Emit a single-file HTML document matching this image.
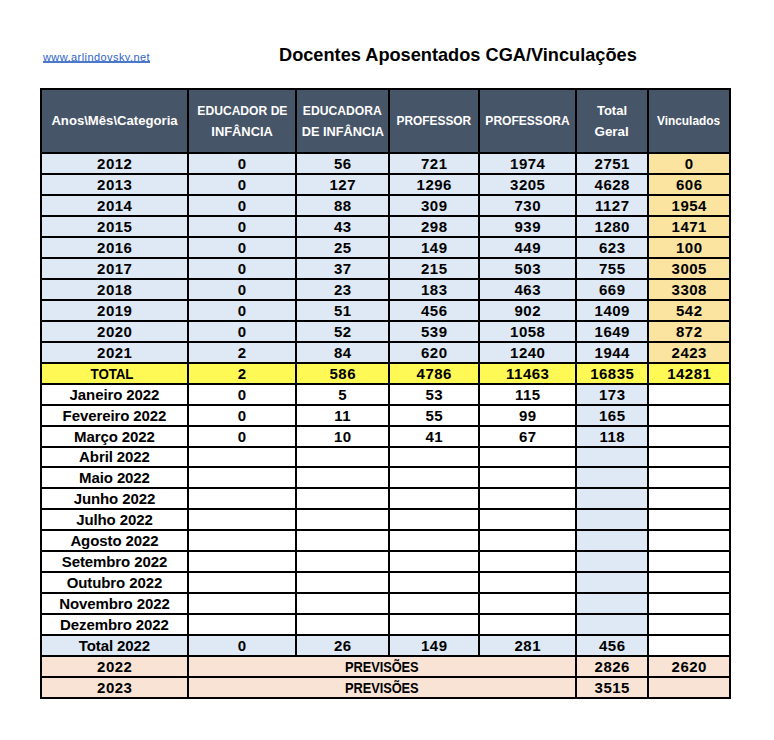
<!DOCTYPE html>
<html><head><meta charset="utf-8"><style>
html,body{margin:0;padding:0;background:#fff;width:774px;height:740px;overflow:hidden;position:relative}
.b{position:absolute}
.t{position:absolute;text-align:center;font-family:"Liberation Sans",sans-serif;font-weight:bold;white-space:nowrap;color:#000}
.d{font-size:15px;letter-spacing:-0.1px;text-indent:-0.1px}
.num{letter-spacing:0.5px;text-indent:0.5px}
.h{color:#fff;font-size:13px}
.h2{line-height:21px;padding-top:10px;box-sizing:border-box}
.link{position:absolute;left:43px;top:51px;font-family:"Liberation Sans",sans-serif;font-size:11px;letter-spacing:0.43px;color:#2E62C8;white-space:nowrap}
.ul{position:absolute;left:43px;top:61px;width:107px;height:2px;background:#4A78CC}
.title{position:absolute;left:279px;top:45px;font-family:"Liberation Sans",sans-serif;font-size:18.2px;font-weight:bold;color:#000;white-space:nowrap}
</style></head><body>
<div class="link">www.arlindovsky.net</div><div class="ul"></div>
<div class="title">Docentes Aposentados CGA/Vinculações</div>
<div class="b" style="left:40px;top:88px;width:691px;height:64px;background:#475568"></div>
<div class="b" style="left:40px;top:152px;width:147px;height:21px;background:#DEE9F5"></div>
<div class="b" style="left:187px;top:152px;width:108px;height:21px;background:#DEE9F5"></div>
<div class="b" style="left:295px;top:152px;width:93px;height:21px;background:#DEE9F5"></div>
<div class="b" style="left:388px;top:152px;width:90px;height:21px;background:#DEE9F5"></div>
<div class="b" style="left:478px;top:152px;width:97px;height:21px;background:#DEE9F5"></div>
<div class="b" style="left:575px;top:152px;width:72px;height:21px;background:#DEE9F5"></div>
<div class="b" style="left:647px;top:152px;width:82px;height:21px;background:#FAE4A0"></div>
<div class="b" style="left:40px;top:173px;width:147px;height:21px;background:#DEE9F5"></div>
<div class="b" style="left:187px;top:173px;width:108px;height:21px;background:#DEE9F5"></div>
<div class="b" style="left:295px;top:173px;width:93px;height:21px;background:#DEE9F5"></div>
<div class="b" style="left:388px;top:173px;width:90px;height:21px;background:#DEE9F5"></div>
<div class="b" style="left:478px;top:173px;width:97px;height:21px;background:#DEE9F5"></div>
<div class="b" style="left:575px;top:173px;width:72px;height:21px;background:#DEE9F5"></div>
<div class="b" style="left:647px;top:173px;width:82px;height:21px;background:#FAE4A0"></div>
<div class="b" style="left:40px;top:194px;width:147px;height:21px;background:#DEE9F5"></div>
<div class="b" style="left:187px;top:194px;width:108px;height:21px;background:#DEE9F5"></div>
<div class="b" style="left:295px;top:194px;width:93px;height:21px;background:#DEE9F5"></div>
<div class="b" style="left:388px;top:194px;width:90px;height:21px;background:#DEE9F5"></div>
<div class="b" style="left:478px;top:194px;width:97px;height:21px;background:#DEE9F5"></div>
<div class="b" style="left:575px;top:194px;width:72px;height:21px;background:#DEE9F5"></div>
<div class="b" style="left:647px;top:194px;width:82px;height:21px;background:#FAE4A0"></div>
<div class="b" style="left:40px;top:215px;width:147px;height:21px;background:#DEE9F5"></div>
<div class="b" style="left:187px;top:215px;width:108px;height:21px;background:#DEE9F5"></div>
<div class="b" style="left:295px;top:215px;width:93px;height:21px;background:#DEE9F5"></div>
<div class="b" style="left:388px;top:215px;width:90px;height:21px;background:#DEE9F5"></div>
<div class="b" style="left:478px;top:215px;width:97px;height:21px;background:#DEE9F5"></div>
<div class="b" style="left:575px;top:215px;width:72px;height:21px;background:#DEE9F5"></div>
<div class="b" style="left:647px;top:215px;width:82px;height:21px;background:#FAE4A0"></div>
<div class="b" style="left:40px;top:236px;width:147px;height:21px;background:#DEE9F5"></div>
<div class="b" style="left:187px;top:236px;width:108px;height:21px;background:#DEE9F5"></div>
<div class="b" style="left:295px;top:236px;width:93px;height:21px;background:#DEE9F5"></div>
<div class="b" style="left:388px;top:236px;width:90px;height:21px;background:#DEE9F5"></div>
<div class="b" style="left:478px;top:236px;width:97px;height:21px;background:#DEE9F5"></div>
<div class="b" style="left:575px;top:236px;width:72px;height:21px;background:#DEE9F5"></div>
<div class="b" style="left:647px;top:236px;width:82px;height:21px;background:#FAE4A0"></div>
<div class="b" style="left:40px;top:257px;width:147px;height:21px;background:#DEE9F5"></div>
<div class="b" style="left:187px;top:257px;width:108px;height:21px;background:#DEE9F5"></div>
<div class="b" style="left:295px;top:257px;width:93px;height:21px;background:#DEE9F5"></div>
<div class="b" style="left:388px;top:257px;width:90px;height:21px;background:#DEE9F5"></div>
<div class="b" style="left:478px;top:257px;width:97px;height:21px;background:#DEE9F5"></div>
<div class="b" style="left:575px;top:257px;width:72px;height:21px;background:#DEE9F5"></div>
<div class="b" style="left:647px;top:257px;width:82px;height:21px;background:#FAE4A0"></div>
<div class="b" style="left:40px;top:278px;width:147px;height:21px;background:#DEE9F5"></div>
<div class="b" style="left:187px;top:278px;width:108px;height:21px;background:#DEE9F5"></div>
<div class="b" style="left:295px;top:278px;width:93px;height:21px;background:#DEE9F5"></div>
<div class="b" style="left:388px;top:278px;width:90px;height:21px;background:#DEE9F5"></div>
<div class="b" style="left:478px;top:278px;width:97px;height:21px;background:#DEE9F5"></div>
<div class="b" style="left:575px;top:278px;width:72px;height:21px;background:#DEE9F5"></div>
<div class="b" style="left:647px;top:278px;width:82px;height:21px;background:#FAE4A0"></div>
<div class="b" style="left:40px;top:299px;width:147px;height:21px;background:#DEE9F5"></div>
<div class="b" style="left:187px;top:299px;width:108px;height:21px;background:#DEE9F5"></div>
<div class="b" style="left:295px;top:299px;width:93px;height:21px;background:#DEE9F5"></div>
<div class="b" style="left:388px;top:299px;width:90px;height:21px;background:#DEE9F5"></div>
<div class="b" style="left:478px;top:299px;width:97px;height:21px;background:#DEE9F5"></div>
<div class="b" style="left:575px;top:299px;width:72px;height:21px;background:#DEE9F5"></div>
<div class="b" style="left:647px;top:299px;width:82px;height:21px;background:#FAE4A0"></div>
<div class="b" style="left:40px;top:320px;width:147px;height:21px;background:#DEE9F5"></div>
<div class="b" style="left:187px;top:320px;width:108px;height:21px;background:#DEE9F5"></div>
<div class="b" style="left:295px;top:320px;width:93px;height:21px;background:#DEE9F5"></div>
<div class="b" style="left:388px;top:320px;width:90px;height:21px;background:#DEE9F5"></div>
<div class="b" style="left:478px;top:320px;width:97px;height:21px;background:#DEE9F5"></div>
<div class="b" style="left:575px;top:320px;width:72px;height:21px;background:#DEE9F5"></div>
<div class="b" style="left:647px;top:320px;width:82px;height:21px;background:#FAE4A0"></div>
<div class="b" style="left:40px;top:341px;width:147px;height:21px;background:#DEE9F5"></div>
<div class="b" style="left:187px;top:341px;width:108px;height:21px;background:#DEE9F5"></div>
<div class="b" style="left:295px;top:341px;width:93px;height:21px;background:#DEE9F5"></div>
<div class="b" style="left:388px;top:341px;width:90px;height:21px;background:#DEE9F5"></div>
<div class="b" style="left:478px;top:341px;width:97px;height:21px;background:#DEE9F5"></div>
<div class="b" style="left:575px;top:341px;width:72px;height:21px;background:#DEE9F5"></div>
<div class="b" style="left:647px;top:341px;width:82px;height:21px;background:#FAE4A0"></div>
<div class="b" style="left:40px;top:362px;width:147px;height:21px;background:#FFF955"></div>
<div class="b" style="left:187px;top:362px;width:108px;height:21px;background:#FFF955"></div>
<div class="b" style="left:295px;top:362px;width:93px;height:21px;background:#FFF955"></div>
<div class="b" style="left:388px;top:362px;width:90px;height:21px;background:#FFF955"></div>
<div class="b" style="left:478px;top:362px;width:97px;height:21px;background:#FFF955"></div>
<div class="b" style="left:575px;top:362px;width:72px;height:21px;background:#FFF955"></div>
<div class="b" style="left:647px;top:362px;width:82px;height:21px;background:#FFF955"></div>
<div class="b" style="left:40px;top:383px;width:147px;height:21px;background:#FFFFFF"></div>
<div class="b" style="left:187px;top:383px;width:108px;height:21px;background:#FFFFFF"></div>
<div class="b" style="left:295px;top:383px;width:93px;height:21px;background:#FFFFFF"></div>
<div class="b" style="left:388px;top:383px;width:90px;height:21px;background:#FFFFFF"></div>
<div class="b" style="left:478px;top:383px;width:97px;height:21px;background:#FFFFFF"></div>
<div class="b" style="left:575px;top:383px;width:72px;height:21px;background:#DEE9F5"></div>
<div class="b" style="left:647px;top:383px;width:82px;height:21px;background:#FFFFFF"></div>
<div class="b" style="left:40px;top:404px;width:147px;height:21px;background:#FFFFFF"></div>
<div class="b" style="left:187px;top:404px;width:108px;height:21px;background:#FFFFFF"></div>
<div class="b" style="left:295px;top:404px;width:93px;height:21px;background:#FFFFFF"></div>
<div class="b" style="left:388px;top:404px;width:90px;height:21px;background:#FFFFFF"></div>
<div class="b" style="left:478px;top:404px;width:97px;height:21px;background:#FFFFFF"></div>
<div class="b" style="left:575px;top:404px;width:72px;height:21px;background:#DEE9F5"></div>
<div class="b" style="left:647px;top:404px;width:82px;height:21px;background:#FFFFFF"></div>
<div class="b" style="left:40px;top:425px;width:147px;height:21px;background:#FFFFFF"></div>
<div class="b" style="left:187px;top:425px;width:108px;height:21px;background:#FFFFFF"></div>
<div class="b" style="left:295px;top:425px;width:93px;height:21px;background:#FFFFFF"></div>
<div class="b" style="left:388px;top:425px;width:90px;height:21px;background:#FFFFFF"></div>
<div class="b" style="left:478px;top:425px;width:97px;height:21px;background:#FFFFFF"></div>
<div class="b" style="left:575px;top:425px;width:72px;height:21px;background:#DEE9F5"></div>
<div class="b" style="left:647px;top:425px;width:82px;height:21px;background:#FFFFFF"></div>
<div class="b" style="left:40px;top:446px;width:147px;height:20px;background:#FFFFFF"></div>
<div class="b" style="left:187px;top:446px;width:108px;height:20px;background:#FFFFFF"></div>
<div class="b" style="left:295px;top:446px;width:93px;height:20px;background:#FFFFFF"></div>
<div class="b" style="left:388px;top:446px;width:90px;height:20px;background:#FFFFFF"></div>
<div class="b" style="left:478px;top:446px;width:97px;height:20px;background:#FFFFFF"></div>
<div class="b" style="left:575px;top:446px;width:72px;height:20px;background:#DEE9F5"></div>
<div class="b" style="left:647px;top:446px;width:82px;height:20px;background:#FFFFFF"></div>
<div class="b" style="left:40px;top:466px;width:147px;height:21px;background:#FFFFFF"></div>
<div class="b" style="left:187px;top:466px;width:108px;height:21px;background:#FFFFFF"></div>
<div class="b" style="left:295px;top:466px;width:93px;height:21px;background:#FFFFFF"></div>
<div class="b" style="left:388px;top:466px;width:90px;height:21px;background:#FFFFFF"></div>
<div class="b" style="left:478px;top:466px;width:97px;height:21px;background:#FFFFFF"></div>
<div class="b" style="left:575px;top:466px;width:72px;height:21px;background:#DEE9F5"></div>
<div class="b" style="left:647px;top:466px;width:82px;height:21px;background:#FFFFFF"></div>
<div class="b" style="left:40px;top:487px;width:147px;height:21px;background:#FFFFFF"></div>
<div class="b" style="left:187px;top:487px;width:108px;height:21px;background:#FFFFFF"></div>
<div class="b" style="left:295px;top:487px;width:93px;height:21px;background:#FFFFFF"></div>
<div class="b" style="left:388px;top:487px;width:90px;height:21px;background:#FFFFFF"></div>
<div class="b" style="left:478px;top:487px;width:97px;height:21px;background:#FFFFFF"></div>
<div class="b" style="left:575px;top:487px;width:72px;height:21px;background:#DEE9F5"></div>
<div class="b" style="left:647px;top:487px;width:82px;height:21px;background:#FFFFFF"></div>
<div class="b" style="left:40px;top:508px;width:147px;height:21px;background:#FFFFFF"></div>
<div class="b" style="left:187px;top:508px;width:108px;height:21px;background:#FFFFFF"></div>
<div class="b" style="left:295px;top:508px;width:93px;height:21px;background:#FFFFFF"></div>
<div class="b" style="left:388px;top:508px;width:90px;height:21px;background:#FFFFFF"></div>
<div class="b" style="left:478px;top:508px;width:97px;height:21px;background:#FFFFFF"></div>
<div class="b" style="left:575px;top:508px;width:72px;height:21px;background:#DEE9F5"></div>
<div class="b" style="left:647px;top:508px;width:82px;height:21px;background:#FFFFFF"></div>
<div class="b" style="left:40px;top:529px;width:147px;height:21px;background:#FFFFFF"></div>
<div class="b" style="left:187px;top:529px;width:108px;height:21px;background:#FFFFFF"></div>
<div class="b" style="left:295px;top:529px;width:93px;height:21px;background:#FFFFFF"></div>
<div class="b" style="left:388px;top:529px;width:90px;height:21px;background:#FFFFFF"></div>
<div class="b" style="left:478px;top:529px;width:97px;height:21px;background:#FFFFFF"></div>
<div class="b" style="left:575px;top:529px;width:72px;height:21px;background:#DEE9F5"></div>
<div class="b" style="left:647px;top:529px;width:82px;height:21px;background:#FFFFFF"></div>
<div class="b" style="left:40px;top:550px;width:147px;height:21px;background:#FFFFFF"></div>
<div class="b" style="left:187px;top:550px;width:108px;height:21px;background:#FFFFFF"></div>
<div class="b" style="left:295px;top:550px;width:93px;height:21px;background:#FFFFFF"></div>
<div class="b" style="left:388px;top:550px;width:90px;height:21px;background:#FFFFFF"></div>
<div class="b" style="left:478px;top:550px;width:97px;height:21px;background:#FFFFFF"></div>
<div class="b" style="left:575px;top:550px;width:72px;height:21px;background:#DEE9F5"></div>
<div class="b" style="left:647px;top:550px;width:82px;height:21px;background:#FFFFFF"></div>
<div class="b" style="left:40px;top:571px;width:147px;height:21px;background:#FFFFFF"></div>
<div class="b" style="left:187px;top:571px;width:108px;height:21px;background:#FFFFFF"></div>
<div class="b" style="left:295px;top:571px;width:93px;height:21px;background:#FFFFFF"></div>
<div class="b" style="left:388px;top:571px;width:90px;height:21px;background:#FFFFFF"></div>
<div class="b" style="left:478px;top:571px;width:97px;height:21px;background:#FFFFFF"></div>
<div class="b" style="left:575px;top:571px;width:72px;height:21px;background:#DEE9F5"></div>
<div class="b" style="left:647px;top:571px;width:82px;height:21px;background:#FFFFFF"></div>
<div class="b" style="left:40px;top:592px;width:147px;height:21px;background:#FFFFFF"></div>
<div class="b" style="left:187px;top:592px;width:108px;height:21px;background:#FFFFFF"></div>
<div class="b" style="left:295px;top:592px;width:93px;height:21px;background:#FFFFFF"></div>
<div class="b" style="left:388px;top:592px;width:90px;height:21px;background:#FFFFFF"></div>
<div class="b" style="left:478px;top:592px;width:97px;height:21px;background:#FFFFFF"></div>
<div class="b" style="left:575px;top:592px;width:72px;height:21px;background:#DEE9F5"></div>
<div class="b" style="left:647px;top:592px;width:82px;height:21px;background:#FFFFFF"></div>
<div class="b" style="left:40px;top:613px;width:147px;height:21px;background:#FFFFFF"></div>
<div class="b" style="left:187px;top:613px;width:108px;height:21px;background:#FFFFFF"></div>
<div class="b" style="left:295px;top:613px;width:93px;height:21px;background:#FFFFFF"></div>
<div class="b" style="left:388px;top:613px;width:90px;height:21px;background:#FFFFFF"></div>
<div class="b" style="left:478px;top:613px;width:97px;height:21px;background:#FFFFFF"></div>
<div class="b" style="left:575px;top:613px;width:72px;height:21px;background:#DEE9F5"></div>
<div class="b" style="left:647px;top:613px;width:82px;height:21px;background:#FFFFFF"></div>
<div class="b" style="left:40px;top:634px;width:147px;height:21px;background:#DEE9F5"></div>
<div class="b" style="left:187px;top:634px;width:108px;height:21px;background:#DEE9F5"></div>
<div class="b" style="left:295px;top:634px;width:93px;height:21px;background:#DEE9F5"></div>
<div class="b" style="left:388px;top:634px;width:90px;height:21px;background:#DEE9F5"></div>
<div class="b" style="left:478px;top:634px;width:97px;height:21px;background:#DEE9F5"></div>
<div class="b" style="left:575px;top:634px;width:72px;height:21px;background:#DEE9F5"></div>
<div class="b" style="left:647px;top:634px;width:82px;height:21px;background:#FFFFFF"></div>
<div class="b" style="left:40px;top:655px;width:691px;height:21px;background:#F9E3D5"></div>
<div class="b" style="left:40px;top:676px;width:691px;height:21px;background:#F9E3D5"></div>
<div class="b" style="left:40px;top:88px;width:2px;height:611px;background:#000"></div>
<div class="b" style="left:187px;top:88px;width:2px;height:611px;background:#000"></div>
<div class="b" style="left:295px;top:88px;width:2px;height:611px;background:#000"></div>
<div class="b" style="left:388px;top:88px;width:2px;height:611px;background:#000"></div>
<div class="b" style="left:478px;top:88px;width:2px;height:611px;background:#000"></div>
<div class="b" style="left:575px;top:88px;width:2px;height:611px;background:#000"></div>
<div class="b" style="left:647px;top:88px;width:2px;height:611px;background:#000"></div>
<div class="b" style="left:729px;top:88px;width:2px;height:611px;background:#000"></div>
<div class="b" style="left:40px;top:88px;width:691px;height:2px;background:#000"></div>
<div class="b" style="left:40px;top:152px;width:691px;height:2px;background:#000"></div>
<div class="b" style="left:40px;top:173px;width:691px;height:2px;background:#000"></div>
<div class="b" style="left:40px;top:194px;width:691px;height:2px;background:#000"></div>
<div class="b" style="left:40px;top:215px;width:691px;height:2px;background:#000"></div>
<div class="b" style="left:40px;top:236px;width:691px;height:2px;background:#000"></div>
<div class="b" style="left:40px;top:257px;width:691px;height:2px;background:#000"></div>
<div class="b" style="left:40px;top:278px;width:691px;height:2px;background:#000"></div>
<div class="b" style="left:40px;top:299px;width:691px;height:2px;background:#000"></div>
<div class="b" style="left:40px;top:320px;width:691px;height:2px;background:#000"></div>
<div class="b" style="left:40px;top:341px;width:691px;height:2px;background:#000"></div>
<div class="b" style="left:40px;top:362px;width:691px;height:2px;background:#000"></div>
<div class="b" style="left:40px;top:383px;width:691px;height:2px;background:#000"></div>
<div class="b" style="left:40px;top:404px;width:691px;height:2px;background:#000"></div>
<div class="b" style="left:40px;top:425px;width:691px;height:2px;background:#000"></div>
<div class="b" style="left:40px;top:446px;width:691px;height:2px;background:#000"></div>
<div class="b" style="left:40px;top:466px;width:691px;height:2px;background:#000"></div>
<div class="b" style="left:40px;top:487px;width:691px;height:2px;background:#000"></div>
<div class="b" style="left:40px;top:508px;width:691px;height:2px;background:#000"></div>
<div class="b" style="left:40px;top:529px;width:691px;height:2px;background:#000"></div>
<div class="b" style="left:40px;top:550px;width:691px;height:2px;background:#000"></div>
<div class="b" style="left:40px;top:571px;width:691px;height:2px;background:#000"></div>
<div class="b" style="left:40px;top:592px;width:691px;height:2px;background:#000"></div>
<div class="b" style="left:40px;top:613px;width:691px;height:2px;background:#000"></div>
<div class="b" style="left:40px;top:634px;width:691px;height:2px;background:#000"></div>
<div class="b" style="left:40px;top:655px;width:691px;height:2px;background:#000"></div>
<div class="b" style="left:40px;top:676px;width:691px;height:2px;background:#000"></div>
<div class="b" style="left:40px;top:697px;width:691px;height:2px;background:#000"></div>
<div class="b" style="left:295px;top:657px;width:2px;height:19px;background:#F9E3D5"></div>
<div class="b" style="left:388px;top:657px;width:2px;height:19px;background:#F9E3D5"></div>
<div class="b" style="left:478px;top:657px;width:2px;height:19px;background:#F9E3D5"></div>
<div class="b" style="left:295px;top:678px;width:2px;height:19px;background:#F9E3D5"></div>
<div class="b" style="left:388px;top:678px;width:2px;height:19px;background:#F9E3D5"></div>
<div class="b" style="left:478px;top:678px;width:2px;height:19px;background:#F9E3D5"></div>
<div class="t h" style="left:42px;top:90px;width:145px;height:62px;line-height:62px"><span style="display:inline-block;transform:scaleX(1.01)">Anos\Mês\Categoria</span></div>
<div class="t h h2" style="left:189px;top:90px;width:106px;height:62px"><span style="display:inline-block;transform:scaleX(0.931)">EDUCADOR DE</span><br><span style="display:inline-block;transform:scaleX(0.99)">INFÂNCIA</span></div>
<div class="t h h2" style="left:297px;top:90px;width:91px;height:62px"><span style="display:inline-block;transform:scaleX(0.934)">EDUCADORA</span><br><span style="display:inline-block;transform:scaleX(0.98)">DE INFÂNCIA</span></div>
<div class="t h" style="left:390px;top:90px;width:88px;height:62px;line-height:62px"><span style="display:inline-block;transform:scaleX(0.915)">PROFESSOR</span></div>
<div class="t h" style="left:480px;top:90px;width:95px;height:62px;line-height:62px"><span style="display:inline-block;transform:scaleX(0.926)">PROFESSORA</span></div>
<div class="t h h2" style="left:577px;top:90px;width:70px;height:62px"><span style="display:inline-block;transform:scaleX(1.0)">Total</span><br><span style="display:inline-block;transform:scaleX(1.03)">Geral</span></div>
<div class="t h" style="left:649px;top:90px;width:80px;height:62px;line-height:62px"><span style="display:inline-block;transform:scaleX(0.914)">Vinculados</span></div>
<div class="t d num" style="left:42px;top:154px;width:145px;height:19px;line-height:19px">2012</div>
<div class="t d num" style="left:189px;top:154px;width:106px;height:19px;line-height:19px">0</div>
<div class="t d num" style="left:297px;top:154px;width:91px;height:19px;line-height:19px">56</div>
<div class="t d num" style="left:390px;top:154px;width:88px;height:19px;line-height:19px">721</div>
<div class="t d num" style="left:480px;top:154px;width:95px;height:19px;line-height:19px">1974</div>
<div class="t d num" style="left:577px;top:154px;width:70px;height:19px;line-height:19px">2751</div>
<div class="t d num" style="left:649px;top:154px;width:80px;height:19px;line-height:19px">0</div>
<div class="t d num" style="left:42px;top:175px;width:145px;height:19px;line-height:19px">2013</div>
<div class="t d num" style="left:189px;top:175px;width:106px;height:19px;line-height:19px">0</div>
<div class="t d num" style="left:297px;top:175px;width:91px;height:19px;line-height:19px">127</div>
<div class="t d num" style="left:390px;top:175px;width:88px;height:19px;line-height:19px">1296</div>
<div class="t d num" style="left:480px;top:175px;width:95px;height:19px;line-height:19px">3205</div>
<div class="t d num" style="left:577px;top:175px;width:70px;height:19px;line-height:19px">4628</div>
<div class="t d num" style="left:649px;top:175px;width:80px;height:19px;line-height:19px">606</div>
<div class="t d num" style="left:42px;top:196px;width:145px;height:19px;line-height:19px">2014</div>
<div class="t d num" style="left:189px;top:196px;width:106px;height:19px;line-height:19px">0</div>
<div class="t d num" style="left:297px;top:196px;width:91px;height:19px;line-height:19px">88</div>
<div class="t d num" style="left:390px;top:196px;width:88px;height:19px;line-height:19px">309</div>
<div class="t d num" style="left:480px;top:196px;width:95px;height:19px;line-height:19px">730</div>
<div class="t d num" style="left:577px;top:196px;width:70px;height:19px;line-height:19px">1127</div>
<div class="t d num" style="left:649px;top:196px;width:80px;height:19px;line-height:19px">1954</div>
<div class="t d num" style="left:42px;top:217px;width:145px;height:19px;line-height:19px">2015</div>
<div class="t d num" style="left:189px;top:217px;width:106px;height:19px;line-height:19px">0</div>
<div class="t d num" style="left:297px;top:217px;width:91px;height:19px;line-height:19px">43</div>
<div class="t d num" style="left:390px;top:217px;width:88px;height:19px;line-height:19px">298</div>
<div class="t d num" style="left:480px;top:217px;width:95px;height:19px;line-height:19px">939</div>
<div class="t d num" style="left:577px;top:217px;width:70px;height:19px;line-height:19px">1280</div>
<div class="t d num" style="left:649px;top:217px;width:80px;height:19px;line-height:19px">1471</div>
<div class="t d num" style="left:42px;top:238px;width:145px;height:19px;line-height:19px">2016</div>
<div class="t d num" style="left:189px;top:238px;width:106px;height:19px;line-height:19px">0</div>
<div class="t d num" style="left:297px;top:238px;width:91px;height:19px;line-height:19px">25</div>
<div class="t d num" style="left:390px;top:238px;width:88px;height:19px;line-height:19px">149</div>
<div class="t d num" style="left:480px;top:238px;width:95px;height:19px;line-height:19px">449</div>
<div class="t d num" style="left:577px;top:238px;width:70px;height:19px;line-height:19px">623</div>
<div class="t d num" style="left:649px;top:238px;width:80px;height:19px;line-height:19px">100</div>
<div class="t d num" style="left:42px;top:259px;width:145px;height:19px;line-height:19px">2017</div>
<div class="t d num" style="left:189px;top:259px;width:106px;height:19px;line-height:19px">0</div>
<div class="t d num" style="left:297px;top:259px;width:91px;height:19px;line-height:19px">37</div>
<div class="t d num" style="left:390px;top:259px;width:88px;height:19px;line-height:19px">215</div>
<div class="t d num" style="left:480px;top:259px;width:95px;height:19px;line-height:19px">503</div>
<div class="t d num" style="left:577px;top:259px;width:70px;height:19px;line-height:19px">755</div>
<div class="t d num" style="left:649px;top:259px;width:80px;height:19px;line-height:19px">3005</div>
<div class="t d num" style="left:42px;top:280px;width:145px;height:19px;line-height:19px">2018</div>
<div class="t d num" style="left:189px;top:280px;width:106px;height:19px;line-height:19px">0</div>
<div class="t d num" style="left:297px;top:280px;width:91px;height:19px;line-height:19px">23</div>
<div class="t d num" style="left:390px;top:280px;width:88px;height:19px;line-height:19px">183</div>
<div class="t d num" style="left:480px;top:280px;width:95px;height:19px;line-height:19px">463</div>
<div class="t d num" style="left:577px;top:280px;width:70px;height:19px;line-height:19px">669</div>
<div class="t d num" style="left:649px;top:280px;width:80px;height:19px;line-height:19px">3308</div>
<div class="t d num" style="left:42px;top:301px;width:145px;height:19px;line-height:19px">2019</div>
<div class="t d num" style="left:189px;top:301px;width:106px;height:19px;line-height:19px">0</div>
<div class="t d num" style="left:297px;top:301px;width:91px;height:19px;line-height:19px">51</div>
<div class="t d num" style="left:390px;top:301px;width:88px;height:19px;line-height:19px">456</div>
<div class="t d num" style="left:480px;top:301px;width:95px;height:19px;line-height:19px">902</div>
<div class="t d num" style="left:577px;top:301px;width:70px;height:19px;line-height:19px">1409</div>
<div class="t d num" style="left:649px;top:301px;width:80px;height:19px;line-height:19px">542</div>
<div class="t d num" style="left:42px;top:322px;width:145px;height:19px;line-height:19px">2020</div>
<div class="t d num" style="left:189px;top:322px;width:106px;height:19px;line-height:19px">0</div>
<div class="t d num" style="left:297px;top:322px;width:91px;height:19px;line-height:19px">52</div>
<div class="t d num" style="left:390px;top:322px;width:88px;height:19px;line-height:19px">539</div>
<div class="t d num" style="left:480px;top:322px;width:95px;height:19px;line-height:19px">1058</div>
<div class="t d num" style="left:577px;top:322px;width:70px;height:19px;line-height:19px">1649</div>
<div class="t d num" style="left:649px;top:322px;width:80px;height:19px;line-height:19px">872</div>
<div class="t d num" style="left:42px;top:343px;width:145px;height:19px;line-height:19px">2021</div>
<div class="t d num" style="left:189px;top:343px;width:106px;height:19px;line-height:19px">2</div>
<div class="t d num" style="left:297px;top:343px;width:91px;height:19px;line-height:19px">84</div>
<div class="t d num" style="left:390px;top:343px;width:88px;height:19px;line-height:19px">620</div>
<div class="t d num" style="left:480px;top:343px;width:95px;height:19px;line-height:19px">1240</div>
<div class="t d num" style="left:577px;top:343px;width:70px;height:19px;line-height:19px">1944</div>
<div class="t d num" style="left:649px;top:343px;width:80px;height:19px;line-height:19px">2423</div>
<div class="t d" style="left:40px;top:364px;width:145px;height:19px;line-height:19px"><span style="display:inline-block;transform:scaleX(0.89)">TOTAL</span></div>
<div class="t d num" style="left:189px;top:364px;width:106px;height:19px;line-height:19px">2</div>
<div class="t d num" style="left:297px;top:364px;width:91px;height:19px;line-height:19px">586</div>
<div class="t d num" style="left:390px;top:364px;width:88px;height:19px;line-height:19px">4786</div>
<div class="t d num" style="left:480px;top:364px;width:95px;height:19px;line-height:19px">11463</div>
<div class="t d num" style="left:577px;top:364px;width:70px;height:19px;line-height:19px">16835</div>
<div class="t d num" style="left:649px;top:364px;width:80px;height:19px;line-height:19px">14281</div>
<div class="t d" style="left:42px;top:385px;width:145px;height:19px;line-height:19px">Janeiro 2022</div>
<div class="t d num" style="left:189px;top:385px;width:106px;height:19px;line-height:19px">0</div>
<div class="t d num" style="left:297px;top:385px;width:91px;height:19px;line-height:19px">5</div>
<div class="t d num" style="left:390px;top:385px;width:88px;height:19px;line-height:19px">53</div>
<div class="t d num" style="left:480px;top:385px;width:95px;height:19px;line-height:19px">115</div>
<div class="t d num" style="left:577px;top:385px;width:70px;height:19px;line-height:19px">173</div>
<div class="t d" style="left:42px;top:406px;width:145px;height:19px;line-height:19px">Fevereiro 2022</div>
<div class="t d num" style="left:189px;top:406px;width:106px;height:19px;line-height:19px">0</div>
<div class="t d num" style="left:297px;top:406px;width:91px;height:19px;line-height:19px">11</div>
<div class="t d num" style="left:390px;top:406px;width:88px;height:19px;line-height:19px">55</div>
<div class="t d num" style="left:480px;top:406px;width:95px;height:19px;line-height:19px">99</div>
<div class="t d num" style="left:577px;top:406px;width:70px;height:19px;line-height:19px">165</div>
<div class="t d" style="left:42px;top:427px;width:145px;height:19px;line-height:19px">Março 2022</div>
<div class="t d num" style="left:189px;top:427px;width:106px;height:19px;line-height:19px">0</div>
<div class="t d num" style="left:297px;top:427px;width:91px;height:19px;line-height:19px">10</div>
<div class="t d num" style="left:390px;top:427px;width:88px;height:19px;line-height:19px">41</div>
<div class="t d num" style="left:480px;top:427px;width:95px;height:19px;line-height:19px">67</div>
<div class="t d num" style="left:577px;top:427px;width:70px;height:19px;line-height:19px">118</div>
<div class="t d" style="left:42px;top:448px;width:145px;height:18px;line-height:18px">Abril 2022</div>
<div class="t d" style="left:42px;top:468px;width:145px;height:19px;line-height:19px">Maio 2022</div>
<div class="t d" style="left:42px;top:489px;width:145px;height:19px;line-height:19px">Junho 2022</div>
<div class="t d" style="left:42px;top:510px;width:145px;height:19px;line-height:19px">Julho 2022</div>
<div class="t d" style="left:42px;top:531px;width:145px;height:19px;line-height:19px">Agosto 2022</div>
<div class="t d" style="left:42px;top:552px;width:145px;height:19px;line-height:19px">Setembro 2022</div>
<div class="t d" style="left:42px;top:573px;width:145px;height:19px;line-height:19px">Outubro 2022</div>
<div class="t d" style="left:42px;top:594px;width:145px;height:19px;line-height:19px">Novembro 2022</div>
<div class="t d" style="left:42px;top:615px;width:145px;height:19px;line-height:19px">Dezembro 2022</div>
<div class="t d" style="left:42px;top:636px;width:145px;height:19px;line-height:19px">Total 2022</div>
<div class="t d num" style="left:189px;top:636px;width:106px;height:19px;line-height:19px">0</div>
<div class="t d num" style="left:297px;top:636px;width:91px;height:19px;line-height:19px">26</div>
<div class="t d num" style="left:390px;top:636px;width:88px;height:19px;line-height:19px">149</div>
<div class="t d num" style="left:480px;top:636px;width:95px;height:19px;line-height:19px">281</div>
<div class="t d num" style="left:577px;top:636px;width:70px;height:19px;line-height:19px">456</div>
<div class="t d num" style="left:42px;top:657px;width:145px;height:19px;line-height:19px">2022</div>
<div class="t d" style="left:189px;top:657px;width:386px;height:19px;line-height:19px"><span style="display:inline-block;transform:scaleX(0.856)">PREVISÕES</span></div>
<div class="t d num" style="left:577px;top:657px;width:70px;height:19px;line-height:19px">2826</div>
<div class="t d num" style="left:649px;top:657px;width:80px;height:19px;line-height:19px">2620</div>
<div class="t d num" style="left:42px;top:678px;width:145px;height:19px;line-height:19px">2023</div>
<div class="t d" style="left:189px;top:678px;width:386px;height:19px;line-height:19px"><span style="display:inline-block;transform:scaleX(0.856)">PREVISÕES</span></div>
<div class="t d num" style="left:577px;top:678px;width:70px;height:19px;line-height:19px">3515</div>
</body></html>
